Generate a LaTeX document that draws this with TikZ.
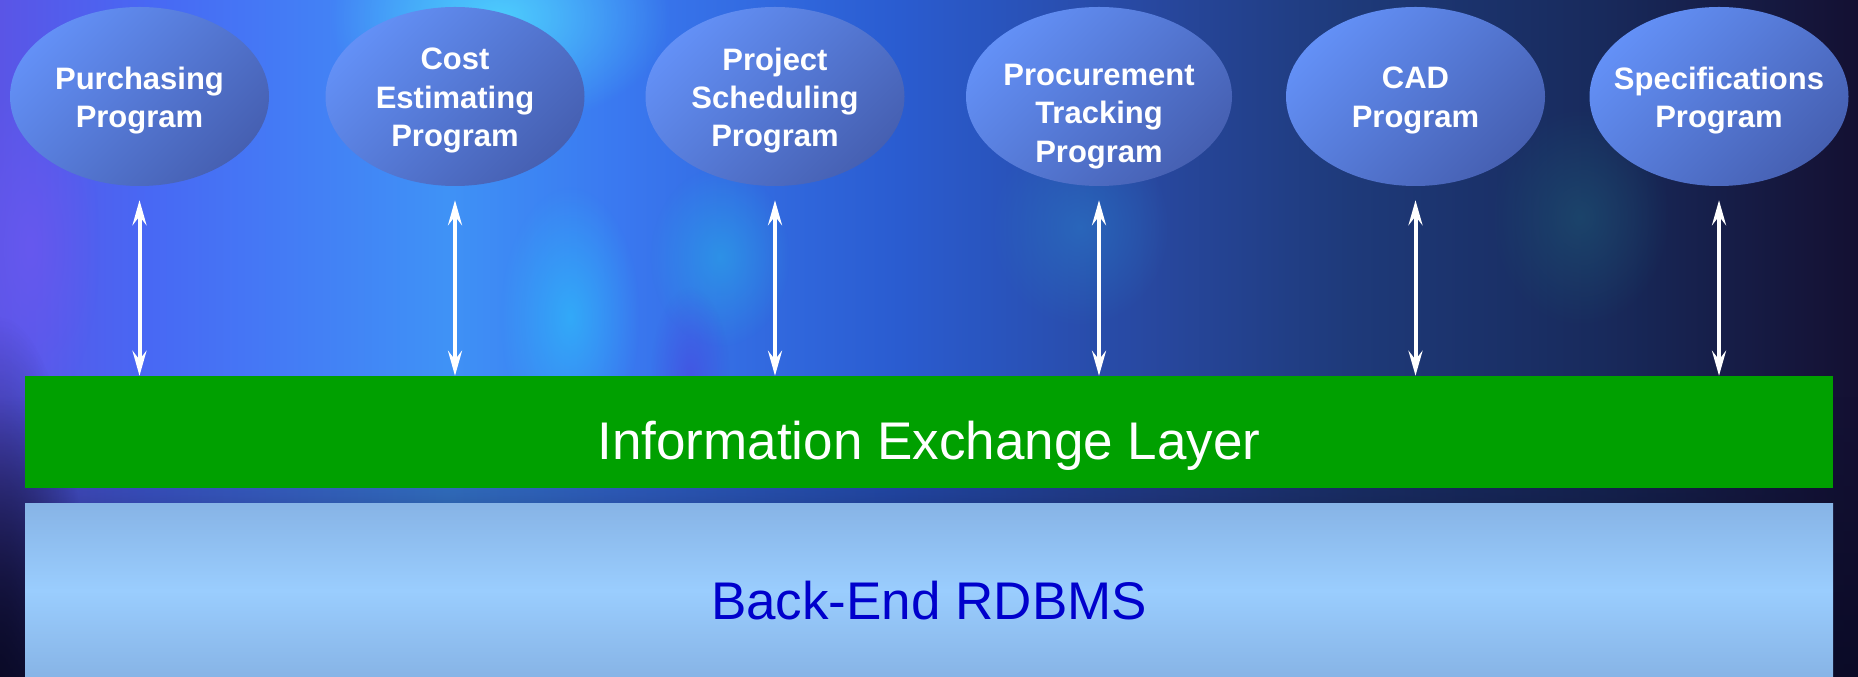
\documentclass[tikz,border=0pt]{standalone}
\usepackage{fontspec}
\setmainfont{Liberation Sans}
\usetikzlibrary{shapes.geometric, arrows.meta, fadings}

\definecolor{ellLight}{HTML}{6390F6}
\definecolor{ellDark}{HTML}{4660B2}
\definecolor{ieGreen}{HTML}{00A000}
\definecolor{dbTop}{HTML}{87B4E6}
\definecolor{dbMid}{HTML}{9ACDFE}
\definecolor{dbText}{HTML}{0000CC}
\definecolor{bgA}{HTML}{5A55E6}
\definecolor{bgB}{HTML}{4868F4}
\definecolor{bgC}{HTML}{3F92F6}
\definecolor{bgD}{HTML}{3A78F0}
\definecolor{bgE}{HTML}{2A5CD0}
\definecolor{bgF}{HTML}{2848A0}
\definecolor{bgG}{HTML}{1E3A7A}
\definecolor{bgH}{HTML}{182A5C}
\definecolor{bgI}{HTML}{141032}
\definecolor{bgDark}{HTML}{0A0A26}
\definecolor{glCyan}{HTML}{50D8FF}
\definecolor{glCyanB}{HTML}{30B4FA}
\definecolor{glCyanC}{HTML}{2AA0E8}
\definecolor{glTeal}{HTML}{2A70C0}
\definecolor{glTealDark}{HTML}{1D4E70}
\definecolor{glPurple}{HTML}{6A58F0}
\definecolor{glIndigo}{HTML}{4A45E0}

\pgfdeclarehorizontalshading{bgshade}{100bp}{
  color(0bp)=(bgA); color(25bp)=(bgA); color(29bp)=(bgB); color(37bp)=(bgC);
  color(41.7bp)=(bgD); color(49.2bp)=(bgE); color(55.9bp)=(bgF);
  color(61.3bp)=(bgG); color(68.1bp)=(bgH); color(75bp)=(bgI); color(100bp)=(bgI)}

\tikzfading[name=glow, inner color=transparent!0, outer color=transparent!100]
\tikzfading[name=fadeup, top color=transparent!100, bottom color=transparent!0]

\newcommand\progfont{\fontsize{31}{38.3}\selectfont\bfseries}

\tikzset{
  prog/.style={ellipse, minimum width=259pt, minimum height=179pt, inner sep=0pt,
    top color=ellLight, bottom color=ellDark, shading angle=45},
  progtext/.style={text=white, font=\progfont, align=center, inner sep=0pt},
  biarrow/.style={draw=white, line width=4pt,
    {Stealth[length=25pt,width=14pt,inset=9pt]}-{Stealth[length=25pt,width=14pt,inset=9pt]}},
  iebox/.style={rectangle, fill=ieGreen, minimum width=1808pt, minimum height=112pt, inner sep=0pt},
  ietext/.style={text=white, font=\fontsize{53}{60}\selectfont, inner sep=0pt},
  dbbox/.style={rectangle, top color=dbTop, bottom color=dbTop, middle color=dbMid,
    minimum width=1808pt, minimum height=173pt, inner sep=0pt},
  dbtext/.style={text=dbText, font=\fontsize{53}{60}\selectfont, inner sep=0pt},
  glowfill/.style={fill=#1, path fading=glow}
}

\begin{document}
\begin{tikzpicture}[x=1pt,y=1pt]
\useasboundingbox (0,0) rectangle (1858,677);
% background
\shade[shading=bgshade] (0,0) rectangle (1858,677);
\fill[glowfill=glCyan, opacity=0.85] (500,660) ellipse (170 and 110);
\fill[glowfill=glCyanB, opacity=0.8] (570,360) ellipse (70 and 130);
\fill[glowfill=glCyanC, opacity=0.7] (720,420) ellipse (70 and 90);
\fill[glowfill=glTeal, opacity=0.7] (1080,450) ellipse (90 and 100);
\fill[glowfill=glTealDark, opacity=0.7] (1580,460) ellipse (90 and 110);
\fill[glowfill=glPurple, opacity=0.8] (30,430) ellipse (70 and 170);
\fill[glowfill=glIndigo, opacity=0.6] (690,300) ellipse (40 and 90);
\fill[bgDark, path fading=fadeup, opacity=0.9] (0,0) rectangle (1858,280);
\fill[glowfill=bgDark, opacity=0.9] (0,0) ellipse (90 and 360);

% program ellipses
\node[prog, label={[progtext, yshift=-4pt]center:{Purchasing\\Program}}] (p1) at (139.5,580.5) {};
\node[prog, label={[progtext, yshift=-4pt]center:{Cost\\Estimating\\Program}}] (p2) at (455,580.5) {};
\node[prog, label={[progtext, yshift=-4pt]center:{Project\\Scheduling\\Program}}] (p3) at (775,580.5) {};
\node[prog, minimum width=266pt, label={[progtext, yshift=-20pt]center:{Procurement\\Tracking\\Program}}] (p4) at (1099,580.5) {};
\node[prog, label={[progtext, yshift=-4pt]center:{CAD\\Program}}] (p5) at (1415.5,580.5) {};
\node[prog, label={[progtext, yshift=-4pt]center:{Specifications\\Program}}] (p6) at (1719,580.5) {};

% layers
\node[iebox] (ie) at (929,245) {};
\node[ietext, anchor=base] (ielabel) at ([yshift=-28pt]ie.center) {Information Exchange Layer};
\node[dbbox] (db) at (929,86.5) {};
\node[dbtext, anchor=base] (dblabel) at ([yshift=-29.5pt]db.center) {Back-End RDBMS};

% connectors
\foreach \p in {p1,p2,p3,p4,p5,p6}{
  \draw[biarrow] ([yshift=-14pt]\p.south) -- (\p.south |- ie.north);
}
\end{tikzpicture}
\end{document}
